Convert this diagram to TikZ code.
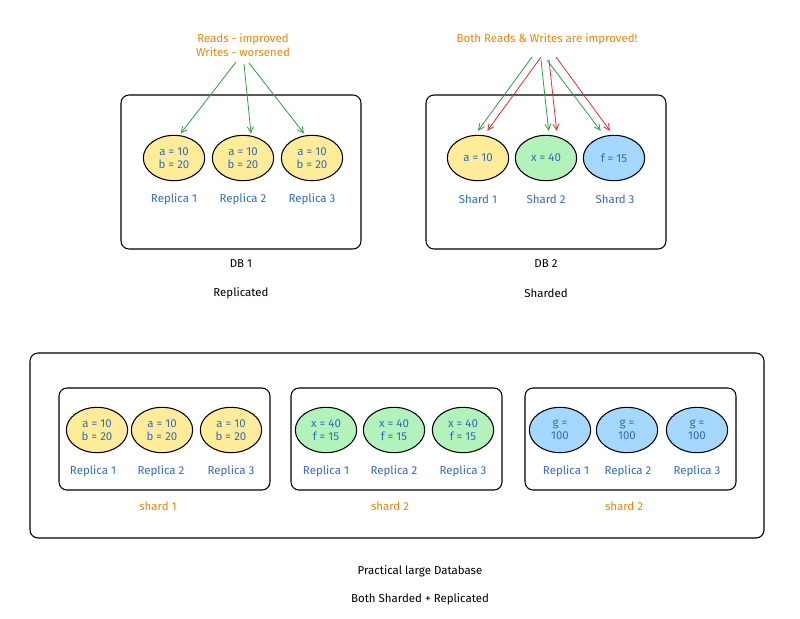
\documentclass[tikz,border=0pt]{standalone}
\usepackage{fontspec}
\setmainfont{Fira Sans}
\usetikzlibrary{shapes.geometric, arrows.meta}
\definecolor{hyellow}{HTML}{FFEC99}
\definecolor{hgreen}{HTML}{B2F2BB}
\definecolor{hblue}{HTML}{A5D8FF}
\definecolor{tblue}{HTML}{2F6CC0}
\definecolor{torange}{HTML}{E8890C}
\definecolor{agreen}{HTML}{2F9E44}
\definecolor{ared}{HTML}{E03131}
\tikzset{
  dbbox/.style={draw, rounded corners=6pt, line width=0.8pt},
  cell/.style={ellipse, draw, line width=0.8pt, minimum width=46pt, minimum height=34pt,
    inner sep=0pt, align=center, text=tblue, font=\fontsize{8.6}{10}\selectfont},
  tag/.style={text=tblue, font=\fontsize{8.6}{10}\selectfont},
  note/.style={text=torange, align=center, font=\fontsize{8.6}{10}\selectfont},
  caption/.style={font=\fontsize{8.6}{10}\selectfont},
  garrow/.style={-{Straight Barb[length=4.5pt, width=4.5pt]}, agreen, line width=0.6pt},
  rarrow/.style={-{Straight Barb[length=4.5pt, width=4.5pt]}, ared, line width=0.6pt}
}
\begin{document}
\begin{tikzpicture}[x=0.75pt, y=-0.75pt]
    \useasboundingbox (0,0) rectangle (800,618);

    % DB 1 : replicated
    \draw[dbbox] (121,95) rectangle (361,249);
    \node[cell, fill=hyellow] (r1) at (174,158) {a = 10\\b = 20};
    \node[cell, fill=hyellow] (r2) at (243,158) {a = 10\\b = 20};
    \node[cell, fill=hyellow] (r3) at (312,158) {a = 10\\b = 20};
    \node[tag] (r1l) at (174,199) {Replica 1};
    \node[tag] (r2l) at (243,199) {Replica 2};
    \node[tag] (r3l) at (312,199) {Replica 3};
    \node[caption] (db1) at (241,264) {DB 1};
    \node[caption] (rep) at (241,293) {Replicated};

    \node[note] (rw1) at (243,45) {Reads - improved\\Writes - worsened};
    \coordinate (p1) at (236,62);
    \coordinate (p2) at (244,64);
    \coordinate (p3) at (249,63);
    \draw[garrow] (p1) -- ([xshift=5pt, yshift=1pt]r1.north);
    \draw[garrow] (p2) -- ([xshift=6pt, yshift=1pt]r2.north);
    \draw[garrow] (p3) -- ([xshift=-6pt, yshift=1pt]r3.north);

    % DB 2 : sharded
    \draw[dbbox] (426,95) rectangle (666,249);
    \node[cell, fill=hyellow] (s1) at (478,158) {a = 10};
    \node[cell, fill=hgreen]  (s2) at (546,158) {x = 40};
    \node[cell, fill=hblue]   (s3) at (614,158) {f = 15};
    \node[tag] (s1l) at (478,199) {Shard 1};
    \node[tag] (s2l) at (546,199) {Shard 2};
    \node[tag] (s3l) at (615,199) {Shard 3};
    \node[caption] (db2) at (546,264) {DB 2};
    \node[caption] (shd) at (546,293) {Sharded};

    \node[note] (rw2) at (547,39) {Both Reads \& Writes are improved!};
    \coordinate (q1) at (532,57);
    \coordinate (q2) at (541,57);
    \coordinate (q3) at (541,60);
    \coordinate (q4) at (549,60);
    \coordinate (q5) at (547,60);
    \coordinate (q6) at (556,57);
    \draw[garrow] (q1) -- ([yshift=3pt]s1.north);
    \draw[rarrow] (q2) -- ([xshift=7pt, yshift=3pt]s1.north);
    \draw[garrow] (q3) -- ([xshift=2pt, yshift=3pt]s2.north);
    \draw[rarrow] (q4) -- ([xshift=8pt, yshift=3pt]s2.north);
    \draw[garrow] (q5) -- ([xshift=-10pt, yshift=3pt]s3.north);
    \draw[rarrow] (q6) -- ([xshift=-3pt, yshift=3pt]s3.north);

    % practical large database
    \draw[dbbox] (30,353) rectangle (764,538);

    \draw[dbbox] (59,388) rectangle (270,490);
    \node[cell, fill=hyellow] (a1) at (97,430) {a = 10\\b = 20};
    \node[cell, fill=hyellow] (a2) at (162,430) {a = 10\\b = 20};
    \node[cell, fill=hyellow] (a3) at (231,430) {a = 10\\b = 20};
    \node[tag] (a1l) at (93,471) {Replica 1};
    \node[tag] (a2l) at (161,471) {Replica 2};
    \node[tag] (a3l) at (231,471) {Replica 3};
    \node[note] (sa) at (158,506) {shard 1};

    \draw[dbbox] (291,388) rectangle (502,490);
    \node[cell, fill=hgreen] (b1) at (326,430) {x = 40\\f = 15};
    \node[cell, fill=hgreen] (b2) at (394,430) {x = 40\\f = 15};
    \node[cell, fill=hgreen] (b3) at (463,430) {x = 40\\f = 15};
    \node[tag] (b1l) at (326,471) {Replica 1};
    \node[tag] (b2l) at (394,471) {Replica 2};
    \node[tag] (b3l) at (463,471) {Replica 3};
    \node[note] (sb) at (390,506) {shard 2};

    \draw[dbbox] (525,388) rectangle (736,490);
    \node[cell, fill=hblue] (c1) at (560,430) {g =\\100};
    \node[cell, fill=hblue] (c2) at (627,430) {g =\\100};
    \node[cell, fill=hblue] (c3) at (697,430) {g =\\100};
    \node[tag] (c1l) at (566,471) {Replica 1};
    \node[tag] (c2l) at (628,471) {Replica 2};
    \node[tag] (c3l) at (697,471) {Replica 3};
    \node[note] (sc) at (624,506) {shard 2};

    \node[caption] (pld) at (420,571) {Practical large Database};
    \node[caption] (bsr) at (420,599) {Both Sharded + Replicated};
\end{tikzpicture}
\end{document}
